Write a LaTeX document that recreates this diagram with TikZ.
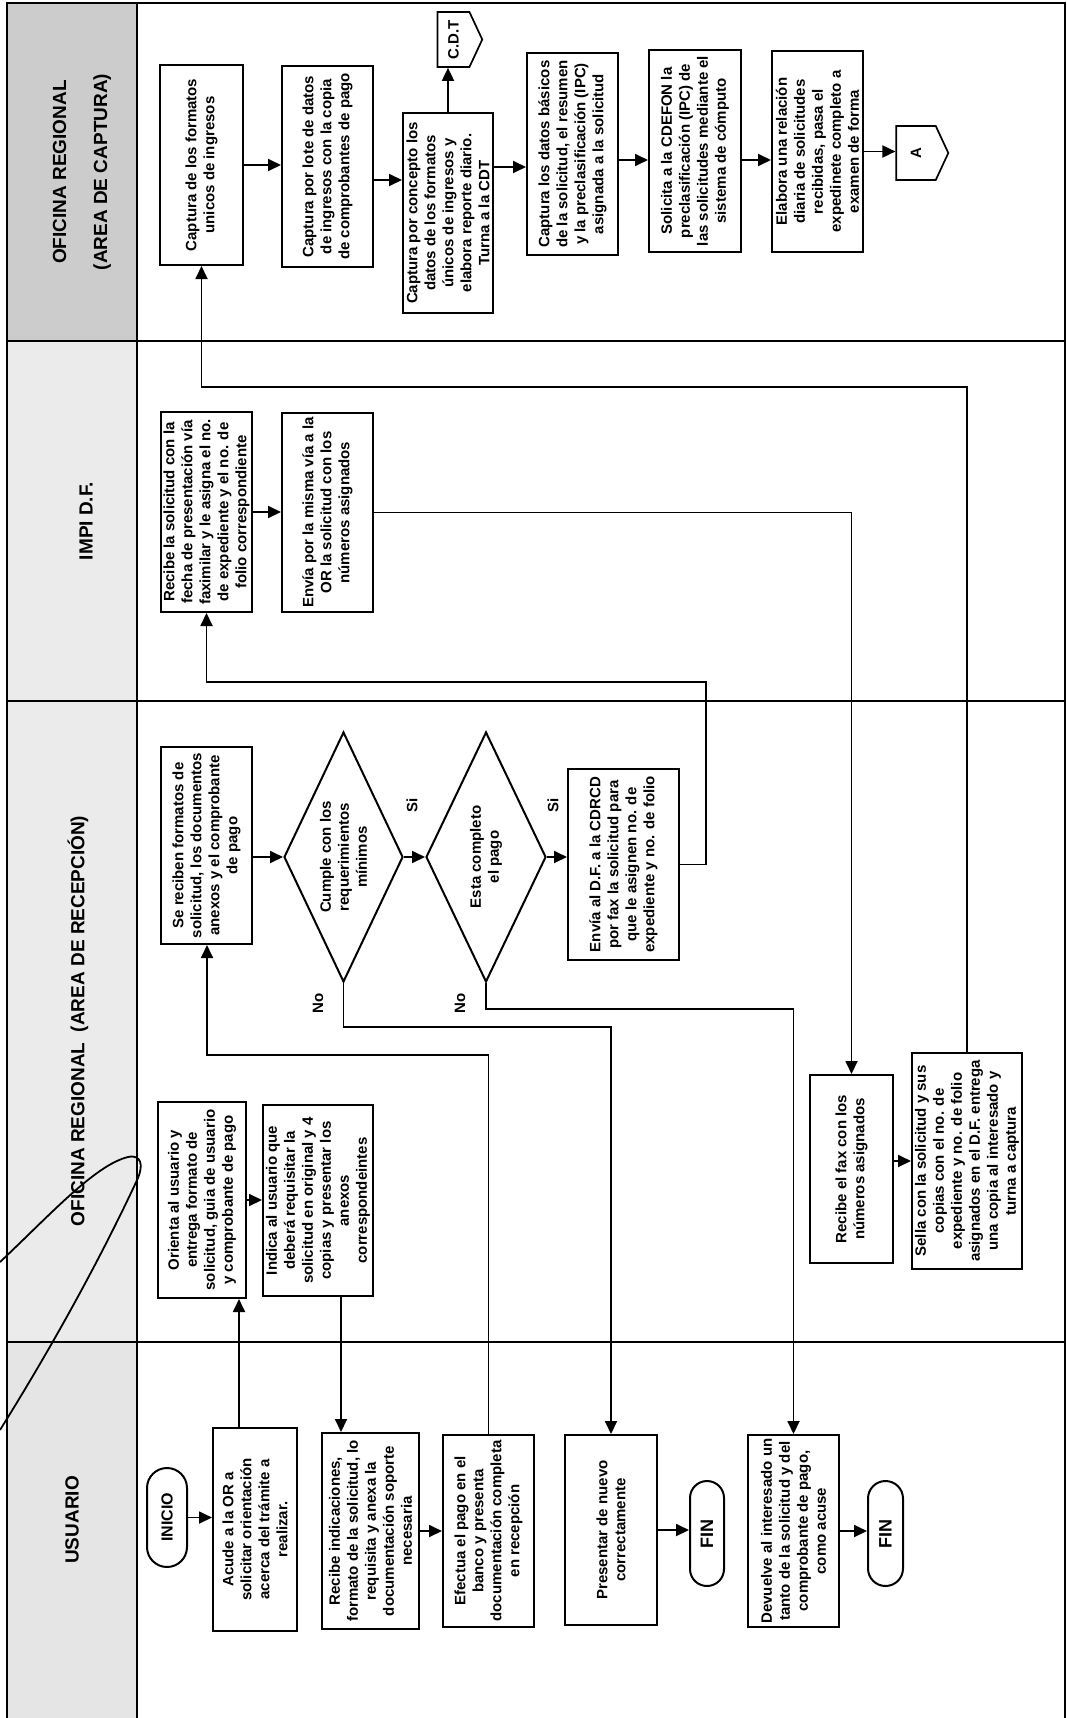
\documentclass[tikz,border=0pt]{standalone}
\usepackage{fontspec}
\setmainfont{Liberation Sans}
\usetikzlibrary{shapes.geometric,shapes.misc,shapes.symbols,arrows.meta}
\begin{document}
\begin{tikzpicture}[x=1pt,y=-1pt,
  box/.style 2 args={draw, line width=2pt, rotate=90, align=center, inner sep=1pt,
    minimum width=#1pt, minimum height=#2pt, font=\bfseries\fontsize{15}{18}\selectfont},
  diam/.style 2 args={draw, diamond, aspect=2.1, line width=2pt, rotate=90, align=center, inner sep=0pt,
    minimum width=#1pt, minimum height=#2pt, font=\bfseries\fontsize{15}{18}\selectfont},
  term/.style 2 args={draw, rounded rectangle, line width=2pt, rotate=90, align=center, inner sep=1pt,
    minimum width=#1pt, minimum height=#2pt, font=\bfseries\fontsize{16}{18}\selectfont},
  offp/.style 2 args={draw, signal, signal to=south, signal pointer angle=130, line width=1.7pt,
    rotate=90, inner sep=0pt, minimum width=#1pt, minimum height=#2pt,
    font=\bfseries\fontsize{15}{18}\selectfont},
  hdr/.style={rotate=90, align=center, inner sep=0pt, font=\bfseries\fontsize{19}{41}\selectfont},
  lbl/.style={rotate=90, inner sep=0pt, font=\bfseries\fontsize{15}{18}\selectfont},
  arr/.style={line width=1.8pt, -{Triangle[length=13pt,width=12pt]}},
  frame/.style={line width=2pt}
]
\useasboundingbox (0,0) rectangle (1067,1718);
% header fills
\fill[gray!40] (7,3) rectangle (137,341);
\fill[gray!16] (7,341) rectangle (137,701);
\fill[gray!16] (7,701) rectangle (137,1342);
\fill[gray!20] (7,1342) rectangle (137,1718);
% frame and lanes
\draw[frame] (7,1718) -- (7,3) -- (1065,3) -- (1065,1718);
\draw[frame] (137,3) -- (137,1718);
\draw[frame] (7,341) -- (1065,341);
\draw[frame] (7,701) -- (1065,701);
\draw[frame] (7,1342) -- (1065,1342);
% headers
\node[hdr] (hC) at (82,172) {OFICINA REGIONAL\\(AREA DE CAPTURA)};
\node[hdr] (hI) at (86,521) {IMPI D.F.};
\node[hdr] (hR) at (78,1021) {OFICINA REGIONAL\ \ (AREA DE RECEPCIÓN)};
\node[hdr] (hU) at (72,1520) {USUARIO};
% captura lane
\node[box={200}{83}] (C1) at (201.5,165) {Captura de los formatos\\unicos de ingresos};
\node[box={201}{91}] (C2) at (327.5,166.5) {Captura por lote de datos\\de ingresos con la copia\\de comprobantes de pago};
\node[box={200}{90}] (C3) at (448,213) {Captura por concepto los\\datos de los formatos\\únicos de ingresos y\\elabora reporte diario.\\Turna a la CDT};
\node[offp={55}{41}] (CDT) at (453.5,39.5) {C.D.T};
\node[box={202}{91}] (C4) at (572.5,154) {Captura los datos básicos\\de la solicitud, el resumen\\y la preclasificación (IPC)\\asignada a la solicitud};
\node[box={202}{92}] (C5) at (695,151) {Solicita a la CDEFON la\\preclasificación (IPC) de\\las solicitudes mediante el\\sistema de cómputo};
\node[box={201}{91}] (C6) at (817.5,151.5) {Elabora una relación\\diaria de solicitudes\\recibidas, pasa el\\expedinete completo a\\examen de forma};
\node[offp={54}{42}] (A) at (916,153) {A};
% IMPI lane
\node[box={200}{91}] (I1) at (206.5,512) {Recibe la solicitud con la\\fecha de presentación vía\\faximilar y le asigna el no.\\de expediente y el no. de\\folio correspondiente};
\node[box={199}{91}] (I2) at (327.5,512.5) {Envía por la misma vía a la\\OR la solicitud con los\\números asignados};
% recepcion lane
\node[box={197}{91}] (R1) at (206.5,845.5) {Se reciben formatos de\\solicitud, los documentos\\anexos y el comprobante\\de pago};
\node[diam={250}{119}] (D1) at (343.5,857) {Cumple con los\\requerimientos\\mínimos};
\node[diam={250}{120}] (D2) at (486,857) {Esta completo\\el pago};
\node[box={191}{111}] (R4) at (623.5,864.5) {Envía al D.F. a la CDRCD\\por fax la solicitud para\\que le asignen no. de\\expediente y no. de folio};
\node[box={196}{88}] (R2) at (202,1200) {Orienta al usuario y\\entrega formato de\\solicitud, guia de usuario\\y comprobante de pago};
\node[box={191}{110}] (R3) at (318,1200.5) {Indica al usuario que\\deberá requisitar la\\solicitud en original y 4\\copias y presentar los\\anexos\\correspondeintes};
\node[box={188}{83}] (R5) at (851.5,1169) {Recibe el fax con los\\números asignados};
\node[box={216}{110}] (R6) at (967,1161) {Sella con la solicitud y sus\\copias con el no. de\\expediente y no. de folio\\asignados en el D.F. entrega\\una copia al interesado y\\turna a captura};
\node[lbl] (si1) at (412,805) {Si};
\node[lbl] (no1) at (318,1003) {No};
\node[lbl] (si2) at (553,805) {Si};
\node[lbl] (no2) at (460,1003) {No};
% usuario lane
\node[term={101}{40}] (U1) at (167,1517.5) {INICIO};
\node[box={203}{84}] (U2) at (255,1529.5) {Acude a la OR a\\solicitar orientación\\acerca del trámite a\\realizar.};
\node[box={196}{97}] (U3) at (370.5,1531) {Recibe indicaciones,\\formato de la solicitud, lo\\requisita y anexa la\\documentación soporte\\necesaria};
\node[box={192}{91}] (U4) at (488.5,1531) {Efectua el pago en el\\banco y presenta\\documentación completa\\en recepción};
\node[box={190}{92}] (U5) at (611,1530) {Presentar de nuevo\\correctamente};
\node[term={107}{34}, font=\bfseries\fontsize{18}{20}\selectfont] (F1) at (707,1533.5) {FIN};
\node[box={192}{91}] (U6) at (793.5,1531) {Devuelve al interesado un\\tanto de la solicitud y del\\comprobante de pago,\\como acuse};
\node[term={107}{35}, font=\bfseries\fontsize{18}{20}\selectfont] (F2) at (885.5,1533.5) {FIN};
% helper coordinates
\coordinate (k2) at (239,0);
\coordinate (k4) at (341,0);
\coordinate (k6) at (207,1055);
\coordinate (k10) at (706,682);
\coordinate (k13) at (0,1027);
\coordinate (k14) at (0,1009);
\coordinate (k18) at (0,387);
\coordinate (k20) at (0,180);
\coordinate (k22) at (0,167);
\coordinate (k23) at (0,160);
% connectors
\draw[arr] (U1.south) -- (U1.south -| U2.north);
\draw[arr] (k2 |- U2.east) -- (k2 |- R2.west);
\draw[arr] (R2.south) -- (R2.south -| R3.north);
\draw[arr] (k4 |- R3.west) -- (k4 |- U3.east);
\draw[arr] (U3.south) -- (U3.south -| U4.north);
\draw[arr] (U4.east) |- (k6) -- (k6 |- R1.west);
\draw[arr] (R1.south |- D1.north) -- (D1.north);
\draw[arr] (D1.south) -- (D2.north);
\draw[arr] (D2.south) -- (D2.south -| R4.north);
\draw[arr] (R4.south) -| (k10) -- (k10 -| I1.west) -- (I1.west);
\draw[arr] (I1.south) -- (I1.south -| I2.north);
\draw[arr] (I2.south) -| (R5.east);
\draw[arr] (D1.west) -- (D1.west |- k13) -| (U5.east);
\draw[arr] (D2.west) -- (D2.west |- k14) -| (U6.east);
\draw[arr] (U5.south) -- (U5.south -| F1.north);
\draw[arr] (U6.south) -- (U6.south -| F2.north);
\draw[arr] (R6.north -| R5.south) -- (R6.north);
\draw[arr] (R6.east) |- (k18 -| C1.west) -- (C1.west);
\draw[arr] (C1.south) -- (C1.south -| C2.north);
\draw[arr] (C2.south |- k20) -- (C3.north |- k20);
\draw[arr] (C3.east) -- (C3.east |- CDT.west);
\draw[arr] (C3.south |- k22) -- (C4.north |- k22);
\draw[arr] (C4.south |- k23) -- (C5.north |- k23);
\draw[arr] (C5.south |- k23) -- (C6.north |- k23);
\draw[arr] (C6.south) -- (C6.south -| A.north);
% hand-drawn mark
\draw[line width=1.8pt] (0,1262) .. controls (50,1215) and (95,1165) .. (128,1157)
  .. controls (142,1154) and (143,1166) .. (138,1178)
  .. controls (100,1260) and (50,1350) .. (0,1430);
\end{tikzpicture}
\end{document}
